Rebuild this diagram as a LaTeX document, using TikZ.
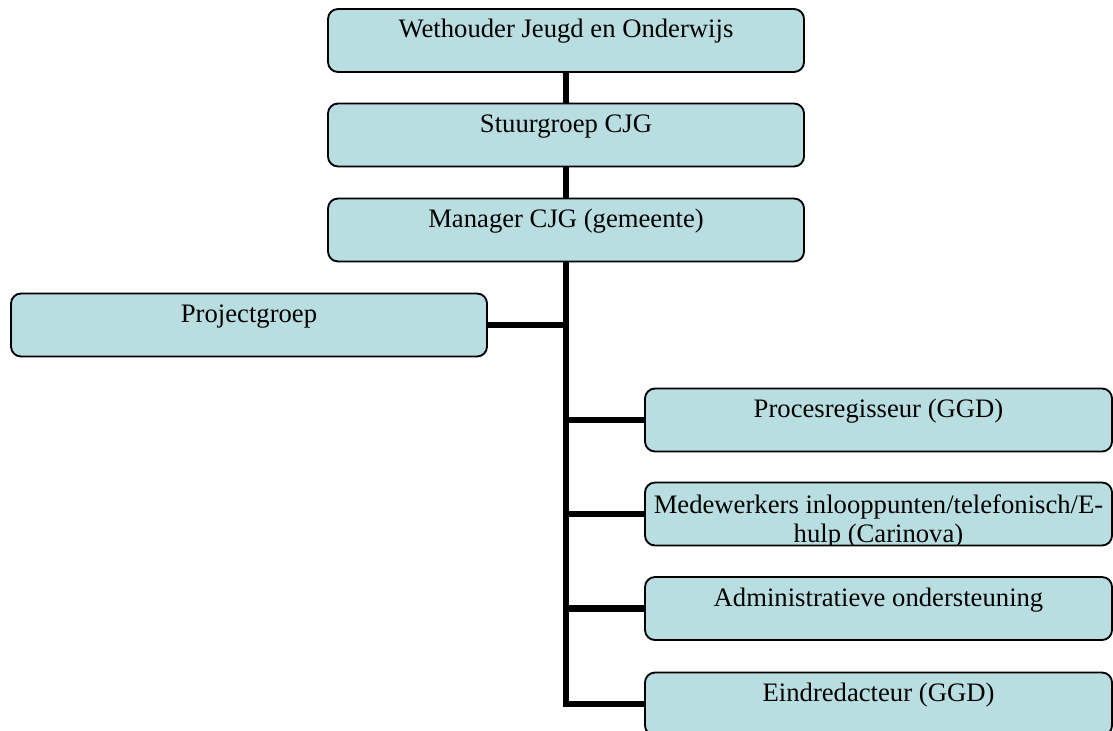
\documentclass[tikz,border=0pt]{standalone}
\usepackage{fontspec}
\setmainfont{Liberation Serif}
\usepackage{tikz}
\definecolor{cjgblue}{RGB}{184,222,226}

\begin{document}
\begin{tikzpicture}[x=0.75pt,y=-0.75pt,
                            box/.style={draw,line width=1.4pt,rounded corners=7.5pt,fill=cjgblue,
                                inner sep=0pt,minimum height=47.25pt,text height=21.75pt,text depth=25.5pt,
                                font=\fontsize{20}{21.75}\selectfont},
                            topbox/.style={box,minimum width=357pt},
                            rightbox/.style={box,minimum width=350.25pt},
                            link/.style={line width=5pt}]
                            \useasboundingbox (0,0) rectangle (1113,731);
                            \node[topbox] (weth) at (566,40.5) {Wethouder Jeugd en Onderwijs};
                            \node[topbox] (stuur) at (566,135) {Stuurgroep CJG};
                            \node[topbox] (manager) at (566,230) {Manager CJG (gemeente)};
                            \node[topbox] (project) at (249,325) {Projectgroep};
                            \node[rightbox] (proces) at (878.5,420) {Procesregisseur (GGD)};
                            \node[rightbox,path picture={
                                \node[anchor=base,align=center,inner sep=0pt,font=\fontsize{20}{21.75}\selectfont]
                                (medewtext) at ([yshift=-45pt]path picture bounding box.north)
                                {Medewerkers inlooppunten/telefonisch/E-\\hulp (Carinova)};}]
                                (medew) at (878.5,514) {};
                            \node[rightbox] (admin) at (878.5,608.5) {Administratieve ondersteuning};
                            \node[rightbox] (eind) at (878.5,704) {Eindredacteur (GGD)};
                            \draw[link] (weth) -- (stuur);
                            \draw[link] (stuur) -- (manager);
                            \draw[link] (manager.south) -- (manager.south |- eind.west) -- (eind.west);
                            \draw[link] (project.east) -- (project.east -| manager.south);
                            \foreach \n in {proces,medew,admin}
                                \draw[link] (\n.west) -- (\n.west -| manager.south);
                        \end{tikzpicture}
\end{document}
